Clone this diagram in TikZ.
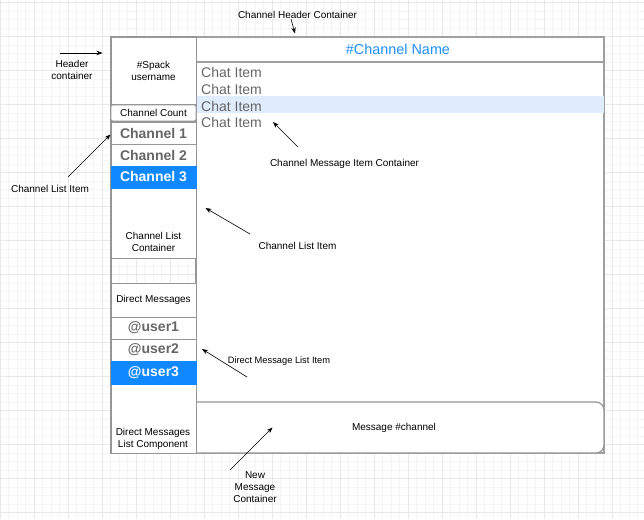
\documentclass[tikz,border=0pt]{standalone}
\usepackage{fontspec}
\setmainfont{Liberation Sans}
\usetikzlibrary{arrows.meta}
\definecolor{gridminor}{RGB}{245,245,245}
\definecolor{gridmajor}{RGB}{232,232,232}
\definecolor{bordergrey}{RGB}{150,150,150}
\definecolor{outergrey}{RGB}{160,160,160}
\definecolor{textgrey}{RGB}{102,102,102}
\definecolor{bluefill}{RGB}{16,136,255}
\definecolor{bluetext}{RGB}{30,144,255}
\definecolor{rowblue}{RGB}{222,236,252}
\begin{document}
\begin{tikzpicture}[x=1pt,y=-1pt,
  box/.style={draw=bordergrey, line width=0.9pt, fill=white, inner sep=0pt, outer sep=0pt, anchor=north west, align=center},
  itemtext/.style={font=\bfseries\fontsize{14}{16}\selectfont, text=textgrey},
  selitem/.style={box, fill=bluefill, draw=bluefill, font=\bfseries\fontsize{14}{16}\selectfont, text=white},
  small/.style={font=\fontsize{10}{12}\selectfont, inner sep=0pt, align=center},
  chat/.style={font=\fontsize{14}{16}\selectfont, text=textgrey, inner sep=0pt, anchor=base west},
  note/.style={draw=black, line width=0.6pt, -{Stealth[length=6pt,width=4.5pt]}}
]
\useasboundingbox (0,0) rectangle (644,519);
\fill[white] (0,0) rectangle (644,519);
% background grid
\foreach \i in {0,...,76} {\draw[gridminor, line width=0.7pt] ({\i*8.5},0) -- ({\i*8.5},519);}
\foreach \j in {0,...,61} {\draw[gridminor, line width=0.7pt] (0,{2.5+\j*8.5}) -- (644,{2.5+\j*8.5});}
\foreach \i in {0,...,19} {\draw[gridmajor, line width=0.8pt] ({\i*34},0) -- ({\i*34},519);}
\foreach \j in {0,...,15} {\draw[gridmajor, line width=0.8pt] (0,{2.5+\j*34}) -- (644,{2.5+\j*34});}

% right panel
\node[box, draw=outergrey, line width=1.5pt, minimum width=408pt, minimum height=416pt] (rp) at (196,37) {};
\fill[rowblue] (196,96) rectangle (604,113);
\node[box, draw=outergrey, line width=1.2pt, minimum width=408pt, minimum height=25pt, font=\fontsize{14.4}{16}\selectfont, text=bluetext] (chhdr) at (196,37) {\hspace*{-4pt}\#Channel Name};
\node[chat] (c1) at (201,77) {Chat Item};
\node[chat] (c2) at (201,94) {Chat Item};
\node[chat] (c3) at (201,111.5) {Chat Item};
\node[chat] (c4) at (201,127.5) {Chat Item};
\draw[draw=bordergrey, line width=1.2pt, fill=white, rounded corners=8pt] (196,402) -- (604,402) -- (604,453) -- (196,453);
\node[small] (msg) at (394,428) {Message \#channel};

% left column
\draw[bordergrey, line width=1.2pt] (111,37) rectangle (196,453);
\node[box, minimum width=85pt, minimum height=67pt, small] (hdr) at (111,37) {\#Spack\\username};
\node[box, rounded corners=2pt, line width=0.7pt, minimum width=85pt, minimum height=16pt, small] (cnt) at (111,105) {Channel Count};
\node[box, minimum width=85pt, minimum height=137pt] (clc) at (111,121) {};
\node[box, minimum width=85pt, minimum height=22pt, itemtext] (ch1) at (111,122) {Channel 1};
\node[box, minimum width=85pt, minimum height=22pt, itemtext] (ch2) at (111,144) {Channel 2};
\node[selitem, minimum width=85pt, minimum height=22pt] (ch3) at (111,166) {Channel 3};
\node[small, anchor=north] (clclabel) at (153.5,232) {Channel List\\Container};

\node[box, minimum width=85pt, minimum height=170pt] (dmc) at (111,283) {};
\node[box, minimum width=85pt, minimum height=34pt, small] (dmh) at (111,283) {Direct Messages};
\node[box, minimum width=85pt, minimum height=22pt, itemtext] (u1) at (111,317) {@user1};
\node[box, minimum width=85pt, minimum height=22pt, itemtext] (u2) at (111,339) {@user2};
\node[selitem, minimum width=85pt, minimum height=23pt] (u3) at (111,361) {@user3};
\node[small, anchor=north] (dmclabel) at (153,428) {Direct Messages\\List Component};

% annotations
\node[small] (lchh) at (297.5,15) {Channel Header Container};
\node[small, anchor=north] (lhc) at (72,60) {Header\\container};
\node[small] (lcli1) at (50,189) {Channel List Item};
\node[small] (lcmic) at (344.5,164) {Channel Message Item Container};
\node[small] (lcli2) at (297.5,246) {Channel List Item};
\node[small, font=\fontsize{9.3}{11}\selectfont] (ldmli) at (279,361) {Direct Message List Item};
\node[small, anchor=north] (lnmc) at (255,471) {New\\Message\\Container};

\coordinate (t1) at (291,19);  \coordinate (h1) at (295,33.5);
\coordinate (t2) at (60,53);   \coordinate (h2) at (102.5,53);
\coordinate (t3) at (68,177);  \coordinate (h3) at (110.5,134.5);
\coordinate (t4) at (298,147); \coordinate (h4) at (273,122);
\coordinate (t5) at (250,234); \coordinate (h5) at (205.5,208);
\coordinate (t6) at (247,377); \coordinate (h6) at (202,349);
\coordinate (t7) at (230,470); \coordinate (h7) at (272.5,427.5);
\draw[note] (t1) -- (h1);
\draw[note] (t2) -- (h2);
\draw[note] (t3) -- (h3);
\draw[note] (t4) -- (h4);
\draw[note] (t5) -- (h5);
\draw[note] (t6) -- (h6);
\draw[note] (t7) -- (h7);
\end{tikzpicture}
\end{document}
